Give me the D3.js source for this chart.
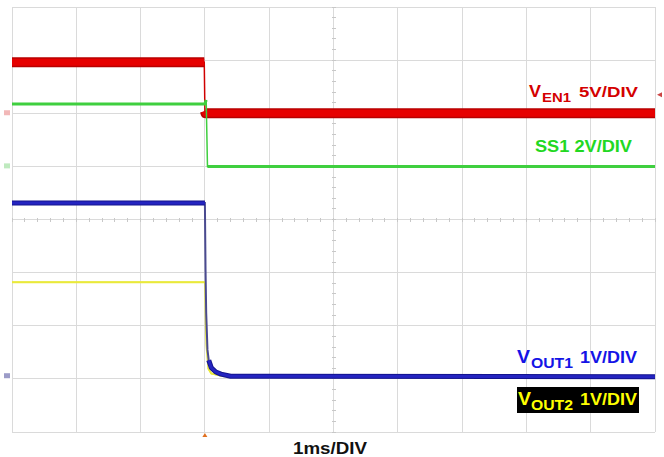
<!DOCTYPE html>
<html>
<head>
<meta charset="utf-8">
<script src="https://cdn.jsdelivr.net/npm/d3@7/dist/d3.min.js"></script>
<style>
  html, body { margin: 0; padding: 0; background: #fff; }
  svg { display: block; }
  text { font-family: "Liberation Sans", Arial, sans-serif; font-weight: bold; }
</style>
</head>
<body>
<svg id="chart" width="664" height="457"></svg>
<script>
// ---- data (time in ms, values in volts) ----
const hDivs = [0,1,2,3,4,5,6,7,8,9,10];
const vDivs = [0,1,2,3,4,5,6,7,8];

const enTime  = [0, 2.99, 3.00, 3.01, 10];
const enVolts = [4.8, 4.8, 0.2, 0.0, 0.0];

const ssTime  = [0, 3.00, 3.02, 3.04, 10];
const ssVolts = [2.35, 2.35, 2.5, 0.0, 0.0];

const vout1Time  = [0, 3.00, 3.01, 3.02, 3.04, 3.06, 3.10, 3.17, 3.25, 3.40, 10];
const vout1Volts = [3.26, 3.26, 2.0, 1.2, 0.5, 0.3, 0.16, 0.08, 0.04, 0.0, -0.01];

const vout2Time  = [0, 3.00, 3.01, 3.02, 3.05, 3.10, 3.30, 10];
const vout2Volts = [1.77, 1.77, 1.0, 0.6, 0.15, 0.05, 0.0, 0.0];

// channel settings: offset (divisions from bottom), volts per division
const enScale = { offset: 6.0, perDiv: 5 };
const ssScale = { offset: 5.0, perDiv: 2 };
const v1Scale = { offset: 1.05, perDiv: 1 };
const v2Scale = { offset: 1.05, perDiv: 1 };

// ---- drawing ----
const svg = d3.select("#chart");
const x = d3.scaleLinear().domain([0, 10]).range([12, 655]);
const y = d3.scaleLinear().domain([0, 8]).range([432, 7]);

const grid = svg.append("g").attr("stroke", "#dadada").attr("stroke-width", 1).attr("shape-rendering", "crispEdges");
grid.selectAll("line.v").data(hDivs).enter().append("line")
  .attr("x1", d => x(d)).attr("x2", d => x(d)).attr("y1", y(0)).attr("y2", y(8));
grid.selectAll("line.h").data(vDivs).enter().append("line")
  .attr("x1", x(0)).attr("x2", x(10)).attr("y1", d => y(d)).attr("y2", d => y(d));

// minor ticks on center axes
const minorX = d3.range(0, 10.001, 0.2);
const minorY = d3.range(0, 8.001, 0.2);
const ticks = svg.append("g").attr("stroke", "#c8c8c8").attr("stroke-width", 1).attr("shape-rendering", "crispEdges");
ticks.selectAll("line.tx").data(minorX).enter().append("line")
  .attr("x1", d => x(d)).attr("x2", d => x(d)).attr("y1", y(4) - 2).attr("y2", y(4) + 2);
ticks.selectAll("line.ty").data(minorY).enter().append("line")
  .attr("x1", x(5) - 2).attr("x2", x(5) + 2).attr("y1", d => y(d)).attr("y2", d => y(d));

// thin stroke on the whole trace, thick band on the slow (flat) parts
function drawTrace(times, volts, sc, thin, layers) {
  const pts = times.map((t, i) => [x(t), y(sc.offset + volts[i] / sc.perDiv)]);
  const line = d3.line();
  svg.append("path").attr("d", line(pts)).attr("fill", "none")
    .attr("stroke", thin.c).attr("stroke-width", thin.w);
  // group consecutive gentle segments into runs
  const runs = [];
  let cur = null;
  for (let i = 0; i < pts.length - 1; i++) {
    const dx = pts[i + 1][0] - pts[i][0], dy = Math.abs(pts[i + 1][1] - pts[i][1]);
    if (dy <= 4 * dx) {
      if (!cur) { cur = [pts[i]]; runs.push(cur); }
      cur.push(pts[i + 1]);
    } else cur = null;
  }
  layers.forEach(l => {
    runs.forEach(r => {
      svg.append("path").attr("d", line(r)).attr("fill", "none")
        .attr("stroke", l.c).attr("stroke-width", l.w).attr("stroke-linejoin", "round");
    });
  });
}

drawTrace(enTime, enVolts, enScale, {c: "#d00000", w: 1.5}, [{c: "#b80000", w: 10}, {c: "#e60000", w: 7}]);
drawTrace(ssTime, ssVolts, ssScale, {c: "#3fcf3f", w: 1.5}, [{c: "#3fcf3f", w: 3}]);
drawTrace(vout2Time, vout2Volts, v2Scale, {c: "#e0e040", w: 1.5}, [{c: "#eaea3a", w: 2}]);
drawTrace(vout1Time, vout1Volts, v1Scale, {c: "#4a4a90", w: 2}, [{c: "#14148e", w: 5}, {c: "#2424c0", w: 3}]);

// channel markers
svg.append("rect").attr("x", 4).attr("y", y(enScale.offset) - 3).attr("width", 6).attr("height", 5).attr("fill", "#f2b8b8");
svg.append("rect").attr("x", 4).attr("y", y(ssScale.offset) - 3).attr("width", 6).attr("height", 5).attr("fill", "#bfeabf");
svg.append("rect").attr("x", 4).attr("y", y(v1Scale.offset) - 3).attr("width", 6).attr("height", 5).attr("fill", "#9c9cc8");
svg.append("path").attr("d", `M${x(10) + 2},${y(6.35)} l5,-2.5 l0,5 z`).attr("fill", "#cc4444");
svg.append("path").attr("d", `M${x(3)},${y(0) + 1} l-2.5,4 l5,0 z`).attr("fill", "#e07020");

// labels
function piece(txt, px, py, size, len, color) {
  svg.append("text").attr("x", px).attr("y", py).attr("font-size", size)
    .attr("fill", color).attr("textLength", len).attr("lengthAdjust", "spacingAndGlyphs").text(txt);
}
const red = "#d40000", green = "#22d822", blue = "#1414e6", yellow = "#ffff00";
piece("V", 529, 97, 17, 12, red);
piece("EN1", 542, 101.5, 12.5, 29, red);
piece("5V/DIV", 579, 97, 14.5, 59, red);

piece("SS1 2V/DIV", 535, 152, 17, 97, green);

piece("V", 517, 363, 18, 13, blue);
piece("OUT1", 531, 368, 14, 42, blue);
piece("1V/DIV", 580, 363, 16.5, 57, blue);

svg.append("rect").attr("x", 517).attr("y", 387).attr("width", 122).attr("height", 26).attr("fill", "#000");
piece("V", 518, 405, 18, 13, yellow);
piece("OUT2", 531, 409.5, 14, 42, yellow);
piece("1V/DIV", 580, 405, 16.5, 57, yellow);

piece("1ms/DIV", 293, 454, 16.5, 74, "#111");
</script>
</body>
</html>
